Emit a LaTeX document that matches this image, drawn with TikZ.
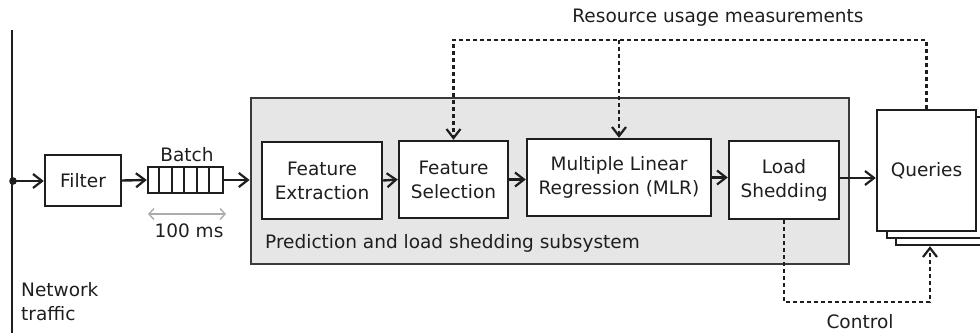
\documentclass[tikz,border=0pt]{standalone}
\usepackage{fontspec}
\setmainfont{DejaVu Sans}
\usetikzlibrary{arrows.meta,calc}
\definecolor{ink}{HTML}{1E1E1E}
\definecolor{subfill}{HTML}{E6E6E6}
\definecolor{subline}{HTML}{3A3A3A}
\begin{document}
\begin{tikzpicture}[x=1pt,y=-1pt,
  font=\fontsize{18.5}{24}\selectfont,
  text=ink,
  tip/.style={-{Straight Barb[length=9pt,width=14pt,line width=2.2pt]}},
  block/.style={draw=ink,line width=2.4pt,fill=white,align=center,inner sep=0pt},
  flow/.style={tip,draw=ink,line width=2.4pt},
  dflow/.style={tip,draw=ink,line width=2.4pt,dash pattern=on 4pt off 3pt}]
\useasboundingbox (0,0) rectangle (980,333);
\begin{scope}
\clip (0,0) rectangle (980,333);

% network traffic input line
\draw[ink,line width=2.8pt] (12,30) -- (12,333);
\node[anchor=north west,align=left,inner sep=0pt] (net) at (21,282) {Network\\traffic};
\fill[ink] (13,181) circle (3.8pt);
\coordinate (tap) at (13,181);

% filter and batch queue
\node[block,minimum width=76pt,minimum height=51pt] (filter) at (83,180.5) {Filter};
\node[draw=ink,line width=2.4pt,minimum width=75pt,minimum height=26pt,inner sep=0pt] (batch) at (185.5,180) {};
\foreach \i in {1,...,5}
  \draw[ink,line width=2.2pt] ($(batch.north west)+(12.5*\i,0)$) -- ($(batch.south west)+(12.5*\i,0)$);
\node[inner sep=0pt] (batchlbl) at (187,155) {Batch};
\coordinate (wl) at (148,214);
\coordinate (wr) at (226,214);
\draw[gray!65,line width=1.4pt,{Straight Barb[length=5pt,width=11pt]}-{Straight Barb[length=5pt,width=11pt]}] (wl) -- (wr);
\node[inner sep=0pt] (ms) at (189,231) {100 ms};

% prediction and load shedding subsystem
\node[draw=subline,fill=subfill,line width=2.8pt,minimum width=598pt,minimum height=166pt,inner sep=0pt] (sub) at (550,181) {};
\node[anchor=west,inner sep=0pt] (sublbl) at (265,243) {Prediction and load shedding subsystem};

\node[block,minimum width=120pt,minimum height=77pt] (fe) at (322,180.5) {Feature\\Extraction};
\node[block,minimum width=109pt,minimum height=77pt] (fs) at (453.5,179.5) {Feature\\Selection};
\node[block,minimum width=184pt,minimum height=77pt] (mlr) at (619,177.5) {Multiple Linear\\Regression (MLR)};
\node[block,minimum width=110pt,minimum height=78pt] (ls) at (784,180) {Load\\Shedding};

% stacked query sheets
\node[block,minimum width=99pt,minimum height=121pt] (q3) at (945.5,184.5) {};
\node[block,minimum width=99pt,minimum height=121pt] (q2) at (936.5,177.5) {};
\node[block,minimum width=99pt,minimum height=121pt] (q) at (926.5,170.5) {Queries};

% data path
\draw[flow] (tap) -- (filter.west |- tap);
\draw[flow] (filter.east) -- (batch.west);
\draw[flow] (batch.east) -- (batch.east -| sub.west);
\draw[flow] (fe.east) -- (fs.west);
\draw[flow] (fs.east) -- (fs.east -| mlr.west);
\draw[flow] (mlr.east) -- (mlr.east -| ls.west);
\draw[flow] (ls.east |- 0,178) -- (q.west |- 0,178);

% resource usage feedback
\coordinate (rtop) at (q.north |- 0,40);
\draw[dflow] (q.north) -- (rtop) -| (fs.north);
\draw[dflow] (mlr.north |- rtop) -- (mlr.north);
\node[inner sep=0pt] (reslbl) at (718,18) {Resource usage measurements};

% control path
\coordinate (cc) at (930,302);
\draw[dflow] (ls.south) |- (cc) -- (cc |- q3.south);
\node[inner sep=0pt] (ctrl) at (860,322) {Control};
\end{scope}
\end{tikzpicture}
\end{document}
